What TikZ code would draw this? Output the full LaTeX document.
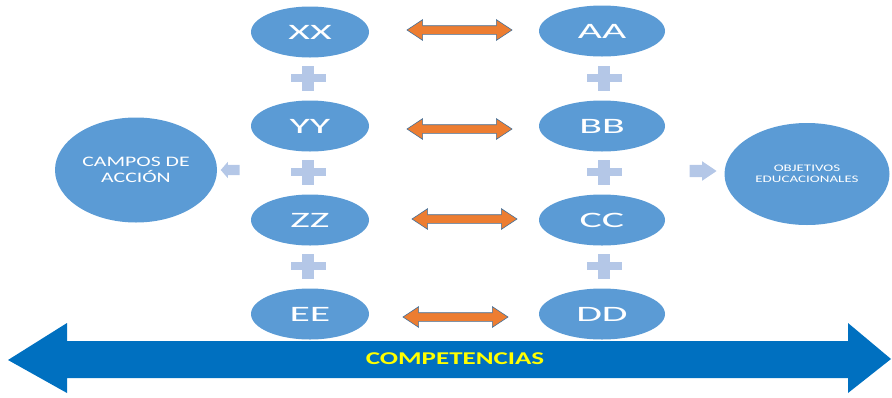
\documentclass[tikz,border=0pt]{standalone}
\usepackage{fontspec}
\setmainfont{Carlito}[FakeStretch=1.5]
\newfontfamily\letrasgrandes{Carlito}[FakeStretch=1.9]
\usetikzlibrary{shapes.geometric,shapes.arrows}

\definecolor{azulcirc}{HTML}{5B9BD5}
\definecolor{azulclaro}{HTML}{B4C7E7}
\definecolor{naranja}{HTML}{ED7D31}
\definecolor{borde}{HTML}{41719C}
\definecolor{azulfranja}{HTML}{0070C0}
\definecolor{amarillo}{HTML}{FFFF00}

\begin{document}
\begin{tikzpicture}[x=1pt,y=-1pt,
        circ/.style={ellipse,fill=azulcirc,text=white,inner sep=0pt,align=center},
        letra/.style={circ,minimum height=51pt,font=\letrasgrandes\fontsize{22}{22}\selectfont},
        flecha/.style={double arrow,fill=naranja,draw=borde,line width=0.6pt,inner xsep=0pt,inner ysep=4pt,
            minimum height=105pt,minimum width=20pt,double arrow head extend=6pt,double arrow tip angle=67},
        mas/.style={fill=azulclaro},
        chica/.style={single arrow,fill=azulclaro,inner xsep=0pt}]
        \useasboundingbox (0,0) rectangle (892,397);

        % columna izquierda
        \node[letra,minimum width=118pt] (xx) at (310,32) {XX};
        \node[letra,minimum width=118pt] (yy) at (310,126) {YY};
        \node[letra,minimum width=118pt] (zz) at (310,220) {ZZ};
        \node[letra,minimum width=118pt] (ee) at (310,314) {EE};

        % columna derecha
        \node[letra,minimum width=126pt] (aa) at (602,31) {AA};
        \node[letra,minimum width=126pt] (bb) at (602,126) {BB};
        \node[letra,minimum width=126pt] (cc) at (602,220) {CC};
        \node[letra,minimum width=126pt] (dd) at (602,314) {DD};

        \node[flecha] (xxaa) at (459.5,30) {};
        \node[flecha] (yybb) at (459.5,129) {};
        \node[flecha] (zzcc) at (464.5,219) {};
        \node[flecha] (eedd) at (455.5,317) {};

        % signos +
        \foreach \px in {308,604}
            \foreach \py in {78,172,266} {
                \fill[mas] (\px-17.5,\py-4) rectangle ++(35,8);
                \fill[mas] (\px-6,\py-12.5) rectangle ++(12,25);
            }

        \node[circ,minimum width=162pt,minimum height=105pt,font=\fontsize{14.5}{16}\selectfont] (campos) at (136,170) {CAMPOS DE\\ACCIÓN};
        \node[circ,minimum width=165pt,minimum height=102pt,font=\fontsize{10}{11}\selectfont] (objetivos) at (807,174) {OBJETIVOS\\EDUCACIONALES};

        \node[chica,shape border rotate=180,inner ysep=5pt,minimum height=19pt,minimum width=16pt,
            single arrow head extend=3pt,single arrow tip angle=98] (haciacampos) at (232.5,170) {};
        \node[chica,inner ysep=6pt,minimum height=27pt,minimum width=19pt,
            single arrow head extend=3.5pt,single arrow tip angle=68] (haciaobj) at (698.5,171) {};

        % franja de competencias
        \fill[azulfranja] (8,360) -- (67,323) -- (67,341) -- (848,341) -- (848,323) -- (891,359)
            -- (848,393) -- (848,378) -- (67,378) -- (67,393) -- cycle;
        \node[text=amarillo,font=\bfseries\fontsize{18}{18}\selectfont] (competencias) at (455,359) {COMPETENCIAS};
\end{tikzpicture}
\end{document}
